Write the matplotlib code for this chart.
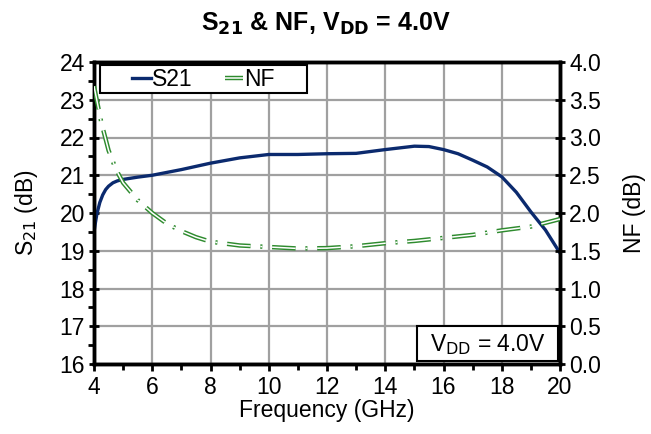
import matplotlib
matplotlib.use("Agg")
from matplotlib import pyplot as plt
from matplotlib import patheffects as pe
from matplotlib.patches import Rectangle
import numpy as np

plt.rcParams['font.family'] = ['Liberation Sans', 'DejaVu Sans']
plt.rcParams['lines.scale_dashes'] = False

# S21 (dB) vs frequency (GHz)
s21_freq = [4.0, 4.05, 4.1, 4.2, 4.3, 4.4, 4.5, 4.65, 4.8, 5.0, 5.5, 6.0, 7.0, 8.0,
            9.0, 10.0, 11.0, 12.0, 13.0, 14.0, 15.0, 15.5, 16.0, 16.5, 17.0,
            17.5, 18.0, 18.5, 19.0, 19.5, 20.0]
s21_db = [19.5, 19.75, 19.98, 20.28, 20.48, 20.62, 20.71, 20.80, 20.85, 20.89, 20.95,
          21.0, 21.15, 21.32, 21.46, 21.55, 21.55, 21.57, 21.58, 21.68, 21.77, 21.76,
          21.68, 21.57, 21.40, 21.22, 20.96, 20.55, 20.03, 19.55, 18.94]

# NF (dB) vs frequency (GHz)
nf_freq = [4.0, 4.25, 4.5, 4.75, 5.0, 5.5, 6.0, 6.5, 7.0, 7.5, 8.0, 9.0, 10.0,
           11.0, 12.0, 13.0, 14.0, 15.0, 16.0, 17.0, 18.0, 19.0, 20.0]
nf_db = [3.68, 3.2, 2.83, 2.58, 2.4, 2.17, 2.0, 1.86, 1.76, 1.68, 1.62, 1.57, 1.55,
         1.53, 1.535, 1.56, 1.6, 1.63, 1.67, 1.71, 1.77, 1.82, 1.92]

fs = 16.5

fig = plt.figure(figsize=(6.51, 4.34), dpi=100)
ax = fig.add_axes([94/651, 70/434, 466/651, 302/434])
ax.set_xlim(4, 20)
ax.set_ylim(16, 24)
ax.set_xticks(np.arange(4, 21, 2))
ax.set_xticks(np.arange(5, 20, 2), minor=True)
ax.set_yticks(np.arange(16, 25, 1))
ax.set_yticks(np.arange(16.5, 24, 1), minor=True)
ax.grid(True, which="major", color="#a0a0a0", lw=1.6)
ax.set_axisbelow(True)

l1, = ax.plot(s21_freq, s21_db, color="#0b2a6e", lw=2.4, label="S21", zorder=3)

ax2 = ax.twinx()
ax2.set_ylim(0, 4)
ax2.set_yticks(np.arange(0, 4.01, 0.5))
ax2.yaxis.set_major_formatter(plt.FormatStrFormatter("%.1f"))
l2, = ax2.plot(nf_freq, nf_db, color="white", lw=1.1, dashes=[17, 7, 1.5, 7],
               label="NF", zorder=3,
               path_effects=[pe.Stroke(linewidth=3.2, foreground="#2e8b2e"), pe.Normal()])

for a in (ax, ax2):
    for s in a.spines.values():
        s.set_linewidth(2.5)
    a.tick_params(which="major", length=7, width=2, labelsize=fs, direction="inout", pad=3)
    a.tick_params(which="minor", length=4, width=2, direction="out")
ax.tick_params(axis="x", which="major", direction="out", length=5, pad=4)

ax.set_xlabel("Frequency (GHz)", fontsize=fs, labelpad=0)
ax.set_ylabel("S$_{21}$ (dB)", fontsize=fs, labelpad=14)
ax2.set_ylabel("NF (dB)", fontsize=fs, labelpad=16)

fig.suptitle("S$_{\\mathbf{21}}$ & NF, V$_{\\mathbf{DD}}$ = 4.0V", fontsize=18,
             fontweight="bold", y=0.975)

# legend box
ax2.add_patch(Rectangle((0.013, 0.897), 0.444, 0.093, transform=ax.transAxes,
                        fc="white", ec="black", lw=1.5, zorder=9))
leg = ax2.legend(handles=[l1, l2], loc="center", bbox_to_anchor=(0.235, 0.943),
                 ncol=2, fontsize=fs, frameon=False,
                 handlelength=0.8, handletextpad=0.05, columnspacing=1.4,
                 borderpad=0.0)
leg.set_zorder(10)

# VDD box
ax2.add_patch(Rectangle((0.693, 0.01), 0.303, 0.116, transform=ax.transAxes,
                        fc="white", ec="black", lw=1.5, zorder=9))
ax2.text(0.8445, 0.065, "V$_{\\mathrm{DD}}$ = 4.0V", transform=ax.transAxes,
         ha="center", va="center", fontsize=fs, zorder=10)

fig.savefig("out.png", dpi=100)
